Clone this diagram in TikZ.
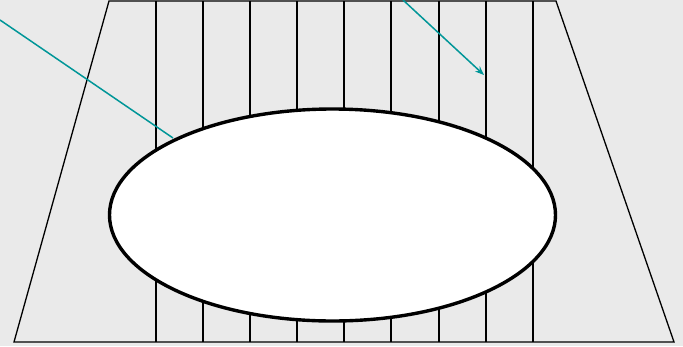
\documentclass[tikz,border=0pt]{standalone}
\usepackage{tikz}
\usetikzlibrary{arrows.meta,shapes.geometric}
\definecolor{stone}{RGB}{234,234,234}
\definecolor{tealline}{RGB}{0,150,152}

\begin{document}
\begin{tikzpicture}[x=1pt,y=-1pt,>={Stealth[length=9pt,width=7pt]},
  rim/.style={draw=black,line width=1.3pt},
  oval/.style={ellipse,draw=black,fill=white,line width=3.4pt,inner sep=0pt,minimum width=446pt,minimum height=212pt},
  pointer/.style={draw=tealline,line width=1.5pt}]
\fill[stone] (0,0) rectangle (683,346);
\useasboundingbox (0,0) rectangle (683,346);
% trapezoid and vertical strips
\coordinate (tl) at (109,1);
\coordinate (tr) at (556,1);
\coordinate (br) at (674,342);
\coordinate (bl) at (14,342);
\draw[rim,line join=miter] (tl)--(tr)--(br)--(bl)--cycle;
\foreach \x in {156,203,250,297,344,391,439,486,533}
  \draw[rim] (\x,1)--(\x,342);
\node[oval] (hole) at (332.5,215) {};
% pointers
\coordinate (p1) at (0,20);
\coordinate (p1e) at (173,138);
\coordinate (p2) at (403,0);
\coordinate (p2e) at (484,75);
\draw[pointer] (p1)--(p1e);
\draw[pointer,->] (p2)--(p2e);
\end{tikzpicture}
\end{document}
